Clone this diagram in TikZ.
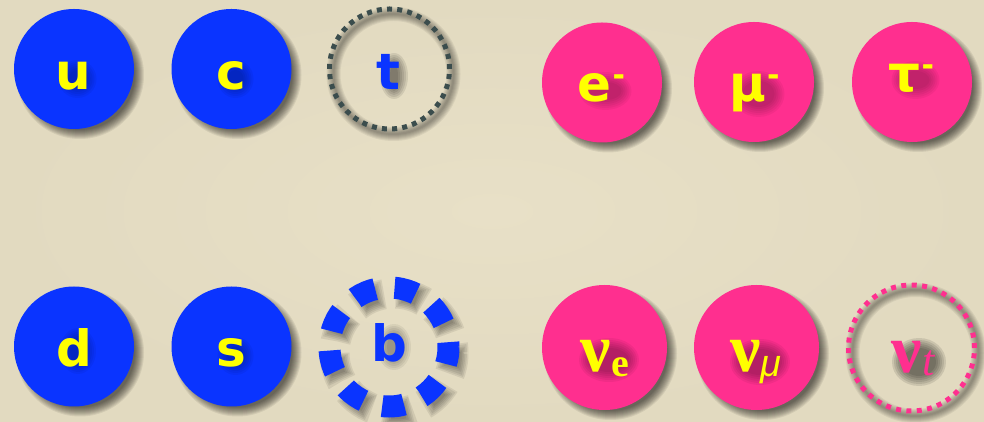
\documentclass[tikz,border=0pt]{standalone}
\usepackage{fontspec}
\newfontfamily\dv{DejaVu Sans}
\newfontfamily\lser{Liberation Serif}
\newfontfamily\lsan{Liberation Sans}
\definecolor{bgin}{HTML}{E8E0C7}
\definecolor{bgout}{HTML}{E2DAC0}
\definecolor{qblue}{HTML}{0A34FF}
\definecolor{lpink}{HTML}{FF2F8F}
\definecolor{qyel}{HTML}{FFFF00}
\definecolor{slate}{HTML}{3B4D4D}
\tikzset{
  disk/.style={circle, inner sep=0pt, outer sep=0pt, minimum size=120pt},
  qdisk/.style={disk, fill=qblue},
  ldisk/.style={disk, fill=lpink, minimum size=#1},
  ldisk/.default=120pt,
  lbl/.style={anchor=base, inner sep=0pt, text=qyel, font={\dv\bfseries\fontsize{50}{60}\selectfont}},
  nulbl/.style={anchor=base, inner sep=0pt, text=qyel, font={\lser\bfseries\fontsize{68}{72}\selectfont}},
}
\newcommand\diskshadow[2]{%
  \foreach \k in {0,...,9}{\fill[black,opacity=0.07] ([shift={(6,-6)}]#1) circle ({#2-5+\k});}}
\newcommand\ringshadow[2]{%
  \foreach \k in {0,...,6}{\draw[black,opacity=0.06,line width={2+2*\k}] ([shift={(4,-5)}]#1) circle (#2);}}
% soft blob behind a label: coordinate, x shift, y shift, half width, half height, opacity
\newcommand\txtblob[6]{%
  \foreach \k in {0,...,5}{\fill[black,opacity=#6] ([shift={(#2,#3)}]#1) ellipse ({#4+5-2*\k} and {#5+5-2*\k});}}
\newcommand\minus{{\fontsize{30}{30}\selectfont\kern1pt\raisebox{16pt}{-}}}
\begin{document}
\begin{tikzpicture}[x=1pt,y=1pt]
\useasboundingbox (0,0) rectangle (984,422);
\shade[inner color=bgin, outer color=bgout] (0,0) rectangle (984,422);
% centres
\coordinate (pu) at (74,353);
\coordinate (pc) at (231.5,353);
\coordinate (pt) at (389.5,353);
\coordinate (pe) at (602,339.5);
\coordinate (pm) at (754,340);
\coordinate (ptau) at (912,340);
\coordinate (pd) at (74,75.5);
\coordinate (ps) at (231.5,75.5);
\coordinate (pb) at (389,75);
\coordinate (pne) at (604.5,74.5);
\coordinate (pnm) at (756.5,74.5);
\coordinate (pnt) at (911.5,74);
% label baselines
\coordinate (lu) at (73.5,332);
\coordinate (lc) at (231.5,332);
\coordinate (lt) at (388,332);
\coordinate (le) at (601.5,320);
\coordinate (lm) at (754.5,320);
\coordinate (ltau) at (911.5,330);
\coordinate (ld) at (74,55);
\coordinate (ls) at (231.5,55);
\coordinate (lb) at (389,60);
\coordinate (lne) at (605,50);
\coordinate (lnm) at (756,50);
\coordinate (lnt) at (913,49);
% shadows
\diskshadow{pu}{60}
\diskshadow{pc}{60}
\diskshadow{pe}{60}
\diskshadow{pm}{60}
\diskshadow{ptau}{60}
\diskshadow{pd}{60}
\diskshadow{ps}{60}
\diskshadow{pne}{62.5}
\diskshadow{pnm}{62.5}
\ringshadow{pt}{60}
\ringshadow{pnt}{63}
\foreach \k in {0,...,5}{%
  \pgfmathsetmacro\on{14+3.2*\k}
  \pgfmathsetmacro\off{41.53-\on}
  \pgfmathsetmacro\ph{\on/2+6.2}
  \draw[black,opacity=0.08,line width={14+3.2*\k},dash pattern=on \on pt off \off pt,dash phase=\ph pt] ([shift={(5,-6)}]pb) circle (59.5);}
% particles
\node[qdisk] (u) at (pu) {};
\node[qdisk] (c) at (pc) {};
\node[disk, draw=slate, line width=5pt, dash pattern=on 5pt off 5.19pt] (t) at (pt) {};
\node[ldisk] (e) at (pe) {};
\node[ldisk] (mu) at (pm) {};
\node[ldisk] (tau) at (ptau) {};
\node[qdisk] (d) at (pd) {};
\node[qdisk] (s) at (ps) {};
\node[disk, minimum size=119pt, draw=qblue, line width=22pt, dash pattern=on 22pt off 19.53pt, dash phase=17.2pt] (b) at (pb) {};
\node[ldisk=125pt] (ne) at (pne) {};
\node[ldisk=125pt] (nm) at (pnm) {};
\node[disk, minimum size=126pt, draw=lpink, line width=5pt, dash pattern=on 5pt off 5.42pt] (nt) at (pnt) {};
% soft shadows behind labels
\txtblob{lu}{4}{11}{14}{14}{0.045}
\txtblob{lc}{4}{11}{13}{14}{0.045}
\txtblob{lt}{6}{14}{9}{18}{0.09}
\txtblob{le}{4}{11}{21}{14}{0.045}
\txtblob{lm}{4}{8}{21}{18}{0.045}
\txtblob{ltau}{4}{12}{19}{14}{0.045}
\txtblob{ld}{4}{16}{13}{18}{0.045}
\txtblob{ls}{4}{11}{13}{14}{0.045}
\txtblob{lb}{5}{15}{12}{18}{0.06}
\txtblob{lne}{4}{12}{25}{17}{0.055}
\txtblob{lnm}{4}{10}{25}{18}{0.055}
\txtblob{lnt}{6}{11}{22}{19}{0.1}
% labels
\node[lbl] (u-l) at (lu) {u};
\node[lbl] (c-l) at (lc) {c};
\node[lbl, text=qblue] (t-l) at (lt) {t};
\node[lbl] (e-l) at (le) {e\minus};
\node[lbl] (mu-l) at (lm) {μ\minus};
\node[lbl] (tau-l) at (ltau) {τ\minus};
\node[lbl] (d-l) at (ld) {d};
\node[lbl] (s-l) at (ls) {s};
\node[lbl, text=qblue] (b-l) at (lb) {b};
\node[nulbl] (ne-l) at (lne) {ν{\fontsize{40}{40}\selectfont\raisebox{-5pt}{e}}};
\node[nulbl] (nm-l) at (lnm) {ν{\lsan\mdseries\itshape\fontsize{38}{40}\selectfont\raisebox{-5pt}{μ}}};
\node[nulbl, text=lpink] (nt-l) at (lnt) {ν{\mdseries\itshape\fontsize{44}{44}\selectfont\raisebox{-3pt}{t}}};
\end{tikzpicture}
\end{document}
